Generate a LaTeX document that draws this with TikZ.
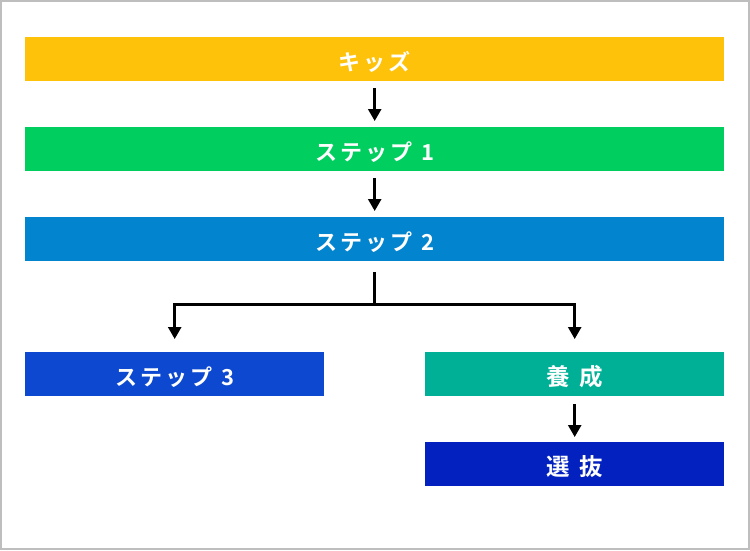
\documentclass[tikz,border=0pt]{standalone}
\usepackage{fontspec}
\newfontfamily\jpfont[LetterSpace=15]{Noto Sans CJK JP Bold}
\usetikzlibrary{arrows.meta}
\definecolor{ckids}{HTML}{FFC20A}
\definecolor{cs1}{HTML}{00CE5F}
\definecolor{cs2}{HTML}{0384CE}
\definecolor{cs3}{HTML}{0D48D0}
\definecolor{cyo}{HTML}{00B096}
\definecolor{csen}{HTML}{0321BE}
\definecolor{frame}{HTML}{BEBEBE}
\begin{document}
\begin{tikzpicture}[x=1pt,y=-1pt,
  bar/.style={minimum height=44pt,inner sep=0pt,text=white,text height=23pt,text depth=1pt,font=\jpfont\fontsize{22pt}{26pt}\selectfont},
  kanji/.style={font=\jpfont\fontsize{23.5pt}{26pt}\selectfont},
  wide/.style={bar,minimum width=699pt},
  half/.style={bar,minimum width=299pt},
  conn/.style={line width=2.6pt,-{Triangle[width=13pt,length=12pt]}},
  plain/.style={line width=2.6pt}]
\useasboundingbox (0,0) rectangle (750,550);
\draw[frame,line width=1.5pt] (1,1) rectangle (749,549);
\node[wide,fill=ckids,anchor=north west] (kids) at (25,37) {キッズ};
\node[wide,fill=cs1,anchor=north west] (s1) at (25,127) {ステップ 1};
\node[wide,fill=cs2,anchor=north west] (s2) at (25,217) {ステップ 2};
\node[half,fill=cs3,anchor=north west] (s3) at (25,352) {ステップ 3};
\node[half,kanji,fill=cyo,anchor=north west] (yo) at (425,352) {養\hspace{9pt}成};
\node[half,kanji,fill=csen,anchor=north west] (sen) at (425,442) {選\hspace{9pt}抜};
\coordinate (top) at ([yshift=-11pt]s2.south);
\coordinate (mid) at ([yshift=-43pt]s2.south);
\coordinate (lft) at (s3.north |- mid);
\coordinate (rgt) at (yo.north |- mid);
\draw[conn] ([yshift=-7pt]kids.south) -- ([yshift=6pt]s1.north);
\draw[conn] ([yshift=-7pt]s1.south) -- ([yshift=6pt]s2.north);
\draw[plain] (top) -- (mid);
\draw[plain] ([xshift=-1.3pt]lft) -- ([xshift=1.3pt]rgt);
\draw[conn] (lft) -- ([yshift=13pt]s3.north);
\draw[conn] (rgt) -- ([yshift=13pt]yo.north);
\draw[conn] ([yshift=-8pt]yo.south) -- ([yshift=5pt]sen.north);
\end{tikzpicture}
\end{document}
